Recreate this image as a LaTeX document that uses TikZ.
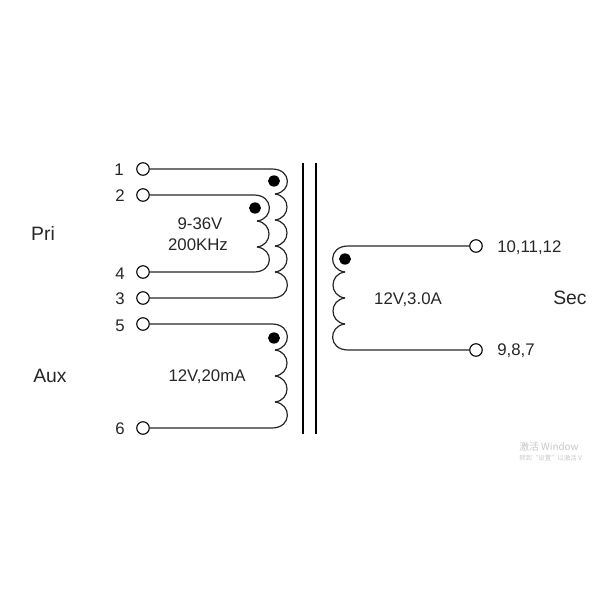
\documentclass[tikz,border=0pt]{standalone}
\usepackage{fontspec}
\setmainfont{Liberation Sans}
\newfontfamily\cjkfont{Noto Sans CJK SC}
\tikzset{
  pin/.style={draw,circle,inner sep=0pt,minimum size=9.4pt,line width=0.85pt},
  wind/.style={line width=0.9pt,color=black!85},
  core/.style={line width=1.1pt},
  blob/.style={fill=black,ellipse,inner sep=0pt,minimum width=9pt,minimum height=8.4pt},
  lab/.style={font=\fontsize{12.6}{14}\selectfont,color=black!85,inner sep=0pt},
  big/.style={font=\fontsize{14.5}{17}\selectfont,color=black!85,inner sep=0pt},
  faint/.style={color=black!22,inner sep=0pt,anchor=west}
}
\usetikzlibrary{shapes.geometric}
\begin{document}
\begin{tikzpicture}[x=0.75pt,y=0.75pt,yscale=-1,xscale=1]
\useasboundingbox (0,0) rectangle (600,600);

%core
\coordinate (coreAt) at (303,163);
\coordinate (coreAb) at (303,434);
\coordinate (coreBt) at (316,163);
\coordinate (coreBb) at (316,434);
\draw [core] (coreAt) -- (coreAb);
\draw [core] (coreBt) -- (coreBb);

%terminals
\node [pin] (p1) at (143,169) {};
\node [pin] (p2) at (143,195) {};
\node [pin] (p4) at (143,272) {};
\node [pin] (p3) at (143,298) {};
\node [pin] (p5) at (143,324) {};
\node [pin] (p6) at (143,428) {};
\node [pin] (p10) at (476,246) {};
\node [pin] (p9) at (476,350) {};

%outer primary winding
\coordinate (a0) at (272,169);
\coordinate (a1) at (275,194);
\coordinate (a4) at (275,272);
\coordinate (a5) at (272,298);
\draw [wind] (p1) -- (a0) .. controls (292,169) and (292,192) .. (a1);
\foreach \y in {194,220,246}
  \draw [wind] (275,\y) .. controls (291,\y+2) and (291,\y+24) .. (275,\y+26);
\draw [wind] (p3) -- (a5) .. controls (292,298) and (292,274) .. (a4);

%inner primary winding
\coordinate (b0) at (254,195);
\coordinate (b1) at (257,221);
\coordinate (b2) at (257,247);
\coordinate (b3) at (254,272);
\draw [wind] (p2) -- (b0) .. controls (274,195) and (274,219) .. (b1);
\draw [wind] (b1) .. controls (273,223) and (273,245) .. (b2);
\draw [wind] (p4) -- (b3) .. controls (274,272) and (274,249) .. (b2);

%aux winding
\coordinate (c0) at (272,324);
\coordinate (c1) at (275,350);
\coordinate (c3) at (275,402);
\coordinate (c4) at (272,428);
\draw [wind] (p5) -- (c0) .. controls (292,324) and (292,348) .. (c1);
\foreach \y in {350,376}
  \draw [wind] (275,\y) .. controls (291,\y+2) and (291,\y+24) .. (275,\y+26);
\draw [wind] (p6) -- (c4) .. controls (292,428) and (292,404) .. (c3);

%secondary winding
\coordinate (d0) at (348,246);
\coordinate (d1) at (345,272);
\coordinate (d3) at (345,324);
\coordinate (d4) at (348,350);
\draw [wind] (p10) -- (d0) .. controls (328,246) and (328,270) .. (d1);
\foreach \y in {272,298}
  \draw [wind] (345,\y) .. controls (329,\y+2) and (329,\y+24) .. (345,\y+26);
\draw [wind] (p9) -- (d4) .. controls (328,350) and (328,326) .. (d3);

%dots
\node [blob] (dot1) at (274,181) {};
\node [blob] (dot2) at (255,208) {};
\node [blob] (dot3) at (274,338) {};
\node [blob] (dot4) at (345,259) {};

% Text Node
\node [lab] (n1) at (119,170) {1};
\node [lab] (n2) at (120,196) {2};
\node [lab] (n4) at (120,274) {4};
\node [lab] (n3) at (120,299) {3};
\node [lab] (n5) at (120,326) {5};
\node [lab] (n6) at (120,429) {6};
\node [lab,anchor=west] (n10) at (497,248) {10,11,12};
\node [lab,anchor=west] (n9) at (497,351) {9,8,7};
\node [lab] (volt1) at (200,224) {9-36V};
\node [lab] (freq) at (198,245) {200KHz};
\node [lab] (volt2) at (207,377) {12V,20mA};
\node [lab] (volt3) at (408,300) {12V,3.0A};
\node [big] (pri) at (43,233) {Pri};
\node [big] (aux) at (50,376) {Aux};
\node [big] (sec) at (570,298) {Sec};

% faint text
\node [faint,font=\cjkfont\fontsize{7.4}{9}\selectfont] (wm1) at (519,447) {激活 Window};
\node [faint,font=\cjkfont\fontsize{4.8}{6}\selectfont] (wm2) at (519,458) {转到“设置”以激活 V};

\end{tikzpicture}
\end{document}
